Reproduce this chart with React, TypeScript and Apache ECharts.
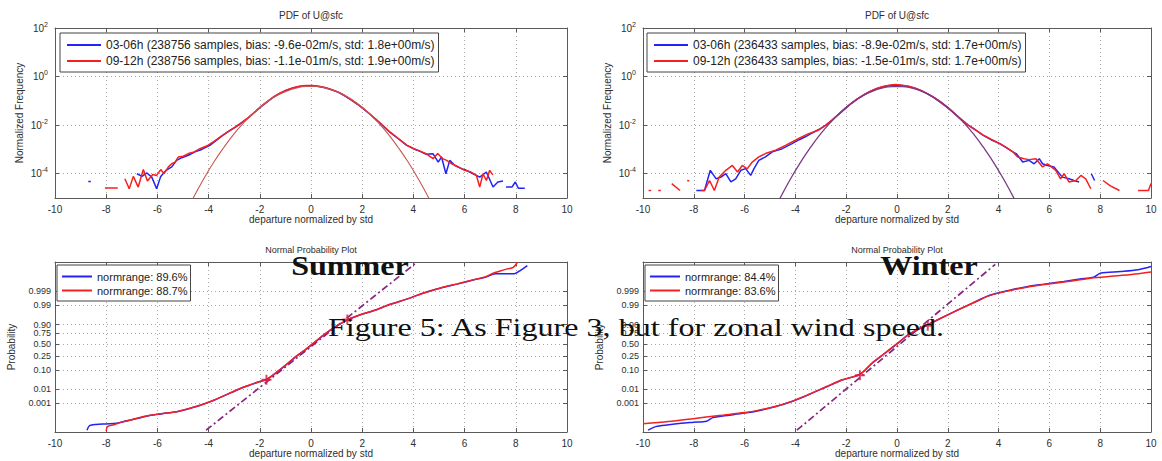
import React, { useEffect, useRef } from "react";
import * as echarts from "echarts";

// ---------- data ----------
// x ticks (departure normalized by std)
const xTickMin = -10;
const xTickMax = 10;
const xTickStep = 2;

// PDF plots: y values are log10(normalized frequency)
const pdfTickValues = [-4, -2, 0, 2];
const pdfLogMin = -5;
const pdfLogMax = 2;

// normal probability plots: y values are normal quantiles
const probTickValues = [-3.09, -2.33, -1.28, -0.5, 0.2, 0.8, 1.27, 2.35, 3.15];
const probTickLabels = ["0.001", "0.01", "0.10", "0.25", "0.50", "0.75", "0.90", "0.99", "0.999"];
const probMin = -4.7;
const probMax = 4.75;

const plotTitlesTop = ["PDF of U@sfc", "PDF of U@sfc"];
const plotTitlesBottom = ["Normal Probability Plot", "Normal Probability Plot"];
const seasonLabels = ["Summer", "Winter"];
const captionText = "Figure 5: As Figure 3, but for zonal wind speed.";

const legendSummer = [
  "03-06h (238756 samples, bias: -9.6e-02m/s, std: 1.8e+00m/s)",
  "09-12h (238756 samples, bias: -1.1e-01m/s, std: 1.9e+00m/s)",
];
const legendWinter = [
  "03-06h (236433 samples, bias: -8.9e-02m/s, std: 1.7e+00m/s)",
  "09-12h (236433 samples, bias: -1.5e-01m/s, std: 1.7e+00m/s)",
];
const legendSummerProb = ["normrange: 89.6%", "normrange: 88.7%"];
const legendWinterProb = ["normrange: 84.4%", "normrange: 83.6%"];

// fitted normal pdf (log10)
const normalFitPdf = [
  [-4.65, -5.1], [-4.2, -4.23], [-3.8, -3.53], [-3.4, -2.91], [-3.0, -2.35], [-2.6, -1.87],
  [-2.2, -1.45], [-1.8, -1.1], [-1.4, -0.82], [-1.0, -0.62], [-0.6, -0.48], [-0.2, -0.41],
  [0.2, -0.41], [0.6, -0.48], [1.0, -0.62], [1.4, -0.82], [1.8, -1.1], [2.2, -1.45],
  [2.6, -1.87], [3.0, -2.35], [3.4, -2.91], [3.8, -3.53], [4.2, -4.23], [4.65, -5.1],
];

const summerPdf0306 = [
  [-8.7, -4.32], [-8.6, -4.32], [-8.5, null],
  [-6.8, -4.0], [-6.6, -4.11], [-6.41, -3.97], [-6.22, -4.14], [-6.03, -4.62], [-5.87, -4.11],
  [-5.66, -3.86], [-5.44, -3.72], [-5.25, -3.45], [-5.05, -3.34], [-4.79, -3.24], [-4.53, -3.1],
  [-4.27, -3.0], [-3.95, -2.83], [-3.7, -2.63], [-3.45, -2.42], [-3.2, -2.24], [-2.95, -2.08],
  [-2.7, -1.9], [-2.45, -1.7], [-2.2, -1.47], [-1.95, -1.24], [-1.7, -1.03], [-1.45, -0.84],
  [-1.2, -0.68], [-0.95, -0.56], [-0.7, -0.47], [-0.45, -0.41], [-0.2, -0.38], [0.05, -0.38],
  [0.3, -0.41], [0.55, -0.46], [0.8, -0.54], [1.05, -0.64], [1.3, -0.78], [1.55, -0.95],
  [1.8, -1.13], [2.05, -1.33], [2.3, -1.55], [2.55, -1.78], [2.8, -2.02], [3.09, -2.3],
  [3.4, -2.55], [3.74, -2.83], [4.0, -2.97], [4.26, -3.08], [4.5, -3.2], [4.77, -3.18],
  [4.97, -3.52], [5.1, -3.31], [5.27, -4.0], [5.42, -3.45], [5.62, -3.66], [5.88, -3.79],
  [6.07, -3.86], [6.33, -4.0], [6.59, -4.14], [6.85, -3.93], [7.11, -4.55], [7.3, -4.34],
  [7.5, -4.3], [7.56, null], [7.62, -4.55], [7.85, -4.55], [7.98, -4.34], [8.1, -4.6], [8.35, -4.6],
];

const summerPdf0912 = [
  [-8.05, -4.59], [-7.55, -4.59], [-7.4, null],
  [-7.27, -4.21], [-7.1, -4.62], [-6.94, -4.11], [-6.75, -4.55], [-6.55, -3.83], [-6.39, -4.3],
  [-6.18, -4.03], [-6.03, -4.07], [-5.87, -3.83], [-5.74, -4.0], [-5.57, -3.72], [-5.44, -3.59],
  [-5.31, -3.52], [-5.18, -3.31], [-4.99, -3.28], [-4.79, -3.17], [-4.6, -3.12], [-4.34, -2.97],
  [-4.08, -2.86], [-3.8, -2.68], [-3.5, -2.45], [-3.2, -2.25], [-2.95, -2.07], [-2.7, -1.89],
  [-2.45, -1.69], [-2.2, -1.46], [-1.95, -1.23], [-1.7, -1.02], [-1.45, -0.83], [-1.2, -0.67],
  [-0.95, -0.55], [-0.7, -0.46], [-0.45, -0.4], [-0.2, -0.37], [0.05, -0.37], [0.3, -0.4],
  [0.55, -0.45], [0.8, -0.53], [1.05, -0.63], [1.3, -0.77], [1.55, -0.94], [1.8, -1.12],
  [2.05, -1.32], [2.3, -1.54], [2.55, -1.77], [2.8, -2.01], [3.09, -2.29], [3.4, -2.54],
  [3.74, -2.82], [4.0, -2.96], [4.26, -3.07], [4.5, -3.18], [4.77, -3.38], [4.95, -3.17],
  [5.14, -3.38], [5.3, -3.45], [5.5, -3.59], [5.75, -3.72], [6.0, -3.86], [6.25, -3.93],
  [6.46, -4.07], [6.59, -4.55], [6.72, -4.0], [6.85, -4.28], [6.98, -3.86], [7.1, -4.05],
];

const winterPdf0306 = [
  [-7.9, -4.69], [-7.58, -4.69], [-7.35, -3.86], [-7.12, -4.21], [-6.93, -4.14], [-6.74, -4.0],
  [-6.54, -4.34], [-6.35, -4.21], [-6.15, -3.86], [-5.96, -3.79], [-5.76, -4.07], [-5.63, -3.79],
  [-5.44, -3.45], [-5.18, -3.31], [-4.91, -3.1], [-4.52, -2.97], [-4.13, -2.76], [-3.85, -2.6],
  [-3.61, -2.48], [-3.35, -2.33], [-3.08, -2.18], [-2.8, -2.0], [-2.55, -1.79], [-2.3, -1.56],
  [-2.05, -1.33], [-1.8, -1.11], [-1.55, -0.92], [-1.3, -0.75], [-1.05, -0.61], [-0.8, -0.5],
  [-0.55, -0.42], [-0.3, -0.37], [-0.05, -0.35], [0.2, -0.37], [0.45, -0.41], [0.7, -0.48],
  [0.95, -0.58], [1.2, -0.71], [1.45, -0.87], [1.7, -1.05], [1.95, -1.25], [2.2, -1.47],
  [2.45, -1.7], [2.8, -2.0], [3.1, -2.2], [3.38, -2.41], [3.7, -2.6], [4.04, -2.76],
  [4.3, -2.93], [4.56, -3.1], [4.69, -3.17], [4.95, -3.52], [5.2, -3.45], [5.4, -3.59],
  [5.6, -3.38], [5.73, -3.59], [5.92, -3.66], [6.18, -3.72], [6.51, -4.14], [6.77, -4.21],
  [6.97, -4.28], [7.17, -4.34], [7.3, null], [7.65, -4.0], [7.78, -4.28],
];

const winterPdf0912 = [
  [-9.78, -4.69], [-9.68, -4.69], [-9.6, null], [-9.4, -4.69], [-9.3, -4.69], [-9.1, null],
  [-8.87, -4.41], [-8.54, -4.69], [-8.4, null], [-8.26, -4.28], [-8.18, -4.3], [-8.0, null],
  [-7.72, -4.69], [-7.58, -4.69], [-7.38, -4.28], [-7.19, -4.69], [-7.0, -4.14], [-6.74, -3.86],
  [-6.48, -3.66], [-6.28, -3.93], [-6.09, -3.66], [-5.9, -3.8], [-5.7, -3.52], [-5.44, -3.31],
  [-5.18, -3.17], [-4.78, -3.03], [-4.39, -2.83], [-3.87, -2.55], [-3.5, -2.36], [-3.08, -2.2],
  [-2.8, -2.0], [-2.55, -1.78], [-2.3, -1.55], [-2.05, -1.32], [-1.8, -1.1], [-1.55, -0.91],
  [-1.3, -0.74], [-1.05, -0.6], [-0.8, -0.49], [-0.55, -0.41], [-0.3, -0.36], [-0.05, -0.33],
  [0.2, -0.36], [0.45, -0.4], [0.7, -0.47], [0.95, -0.57], [1.2, -0.7], [1.45, -0.86],
  [1.7, -1.04], [1.95, -1.24], [2.2, -1.46], [2.45, -1.69], [2.8, -2.0], [3.1, -2.21],
  [3.38, -2.4], [3.7, -2.58], [4.04, -2.75], [4.3, -2.92], [4.56, -3.1], [4.75, -3.31],
  [5.0, -3.38], [5.2, -3.42], [5.47, -3.38], [5.73, -3.72], [5.92, -3.59], [6.25, -3.86],
  [6.44, -4.21], [6.58, -4.0], [6.77, -4.34], [7.04, -4.28], [7.24, -4.07], [7.43, -4.21],
  [7.63, -4.62], [7.8, null], [8.11, -4.28], [8.4, -4.5], [8.76, -4.69], [9.0, null],
  [9.49, -4.69], [9.9, -4.69], [10, -4.4],
];

// normal probability plots (normal quantile of cumulative probability)
const summerProb0306 = [
  [-8.75, -4.6], [-8.65, -4.35], [-8.4, -4.28], [-8.0, -4.25], [-7.6, -4.22], [-7.2, -4.08],
  [-6.8, -3.95], [-6.3, -3.78], [-5.8, -3.68], [-5.25, -3.57], [-4.8, -3.42], [-4.3, -3.2],
  [-3.9, -3.0], [-3.5, -2.75], [-3.1, -2.5], [-2.76, -2.28], [-2.4, -2.1], [-2.03, -1.91],
  [-1.74, -1.78], [-1.4, -1.45], [-1.0, -1.0], [-0.6, -0.52], [-0.22, -0.13], [0.2, 0.35],
  [0.5, 0.7], [0.9, 1.1], [1.42, 1.53], [1.9, 1.8], [2.46, 2.05], [3.1, 2.4], [3.77, 2.7],
  [4.4, 3.03], [5.07, 3.3], [5.7, 3.52], [6.37, 3.76], [6.8, 3.9], [7.2, 4.1], [7.6, 4.1],
  [7.94, 4.1], [8.2, 4.3], [8.45, 4.55],
];
const summerProb0912 = [
  [-8.0, -4.65], [-7.95, -4.4], [-7.7, -4.3], [-7.4, -4.15], [-7.19, -4.09], [-6.8, -3.93],
  [-6.28, -3.77], [-5.8, -3.67], [-5.24, -3.58], [-4.8, -3.4], [-4.32, -3.21], [-3.9, -2.99],
  [-3.49, -2.75], [-3.1, -2.49], [-2.76, -2.28], [-2.4, -2.09], [-2.03, -1.91], [-1.74, -1.78],
  [-1.4, -1.44], [-1.0, -0.99], [-0.6, -0.51], [-0.22, -0.12], [0.2, 0.36], [0.5, 0.7],
  [0.9, 1.1], [1.42, 1.53], [1.9, 1.8], [2.46, 2.05], [3.1, 2.4], [3.77, 2.7], [4.4, 3.03],
  [5.07, 3.31], [5.7, 3.53], [6.37, 3.77], [6.8, 3.92], [7.16, 4.15], [7.5, 4.3], [7.68, 4.37],
  [7.9, 4.45], [8.07, 4.75],
];
const winterProb0306 = [
  [-9.8, -4.6], [-9.5, -4.4], [-9.0, -4.3], [-8.5, -4.22], [-8.0, -4.16], [-7.5, -4.1],
  [-7.25, -3.9], [-6.8, -3.8], [-6.0, -3.65], [-5.4, -3.5], [-4.8, -3.3], [-4.23, -3.05],
  [-3.6, -2.7], [-3.07, -2.37], [-2.6, -2.08], [-2.19, -1.82], [-1.46, -1.5], [-1.0, -0.9],
  [-0.5, -0.35], [0.0, 0.2], [0.5, 0.75], [1.2, 1.25], [2.2, 1.95], [2.95, 2.45], [3.65, 2.9],
  [4.4, 3.17], [5.11, 3.38], [5.8, 3.52], [6.57, 3.67], [7.2, 3.8], [7.74, 3.91], [8.03, 4.14],
  [8.8, 4.22], [9.49, 4.32], [10, 4.5],
];
const winterProb0912 = [
  [-10, -4.24], [-9.0, -4.12], [-8.03, -3.96], [-7.0, -3.78], [-6.0, -3.62], [-5.4, -3.47],
  [-4.8, -3.28], [-4.23, -3.04], [-3.6, -2.69], [-3.07, -2.36], [-2.6, -2.07], [-2.19, -1.81],
  [-1.46, -1.49], [-1.0, -0.89], [-0.5, -0.34], [0.0, 0.21], [0.5, 0.76], [1.2, 1.26],
  [2.2, 1.95], [2.95, 2.44], [3.65, 2.88], [4.4, 3.15], [5.11, 3.35], [5.8, 3.5], [6.57, 3.64],
  [7.2, 3.76], [7.74, 3.88], [8.03, 3.9], [8.8, 4.0], [9.49, 4.1], [10, 4.2],
];

const summerRefLine = [[-4.1, -4.6], [4.15, 4.75]];
const summerQuartiles = [[-1.74, -1.8], [1.42, 1.55]];
const winterRefLine = [[-3.94, -4.6], [3.87, 4.62]];
const winterQuartiles = [[-1.46, -1.55], [1.21, 1.2]];

// ---------- styling ----------
const SANS = "'Liberation Sans', Arial, Helvetica, sans-serif";
const SERIF = "'Liberation Serif', 'DejaVu Serif', serif";
const BLUE = "#2323f5";
const RED = "#f52020";
const AXIS = "#5a5a5a";
const TEXT = "#2e2e2e";
const PLUS = "path://M4,0H6V4H10V6H6V10H4V6H0V4H4Z";

const grids = [
  { left: 55, top: 28, width: 512, height: 170 },
  { left: 643, top: 28, width: 508, height: 170 },
  { left: 55, top: 262, width: 512, height: 170 },
  { left: 643, top: 262, width: 508, height: 170 },
];

function nearestLabel(v: number) {
  let best = 0;
  for (let i = 1; i < probTickValues.length; i++) {
    if (Math.abs(probTickValues[i] - v) < Math.abs(probTickValues[best] - v)) best = i;
  }
  return probTickLabels[best];
}

function buildOption() {
  const xAxes: any[] = [];
  const yAxes: any[] = [];
  const tickStyle = { color: AXIS, width: 1 };
  for (let i = 0; i < 4; i++) {
    xAxes.push({
      gridIndex: i, type: "value", min: xTickMin, max: xTickMax, interval: xTickStep, position: "bottom",
      name: "departure normalized by std", nameLocation: "middle", nameGap: 16,
      nameTextStyle: { fontFamily: SANS, fontSize: 10, color: TEXT },
      axisLine: { show: true, onZero: false, lineStyle: tickStyle },
      axisTick: { show: true, inside: true, length: 4, lineStyle: tickStyle },
      axisLabel: { fontFamily: SANS, fontSize: 10, color: TEXT, margin: 6 },
      splitLine: { show: true, lineStyle: { color: "#a8a8a8", type: [1, 3], width: 1 } },
    });
    xAxes.push({
      gridIndex: i, type: "value", min: xTickMin, max: xTickMax, interval: xTickStep, position: "top",
      axisLine: { show: true, onZero: false, lineStyle: tickStyle },
      axisTick: { show: true, inside: true, length: 4, lineStyle: tickStyle },
      axisLabel: { show: false }, splitLine: { show: false },
    });
    const isPdf = i < 2;
    const tv = isPdf ? pdfTickValues : probTickValues;
    yAxes.push({
      gridIndex: i, type: "value", position: "left",
      min: isPdf ? pdfLogMin : probMin, max: isPdf ? pdfLogMax : probMax,
      name: isPdf ? "Normalized Frequency" : "Probability", nameLocation: "middle",
      nameGap: isPdf ? 31 : 39,
      nameTextStyle: { fontFamily: SANS, fontSize: 10, color: TEXT },
      axisLine: { show: true, onZero: false, lineStyle: tickStyle },
      axisTick: { show: true, inside: true, length: 4, lineStyle: tickStyle, customValues: tv },
      axisLabel: isPdf
        ? {
            customValues: tv, margin: 7,
            formatter: (v: number) => "{b|10}{s|" + v + "}",
            rich: {
              b: { fontFamily: SANS, fontSize: 10, color: TEXT },
              s: { fontFamily: SANS, fontSize: 7, color: TEXT, padding: [0, 0, 8, 0] },
            },
          }
        : {
            customValues: tv, margin: 4, fontFamily: SANS, fontSize: 9, color: TEXT,
            formatter: (v: number) => nearestLabel(v),
          },
      splitLine: { show: true, lineStyle: { color: "#a8a8a8", type: [1, 3], width: 1 } },
    });
    yAxes.push({
      gridIndex: i, type: "value", position: "right",
      min: isPdf ? pdfLogMin : probMin, max: isPdf ? pdfLogMax : probMax,
      axisLine: { show: true, onZero: false, lineStyle: tickStyle },
      axisTick: { show: true, inside: true, length: 4, lineStyle: tickStyle, customValues: tv },
      axisLabel: { show: false }, splitLine: { show: false },
    });
  }

  const line = (name: string, gi: number, data: any[], color: string, width = 1.5, extra: any = {}) => ({
    name, type: "line", xAxisIndex: gi * 2, yAxisIndex: gi * 2, data, symbol: "none",
    lineStyle: { color, width }, itemStyle: { color }, connectNulls: false, clip: true,
    silent: true, ...extra,
  });
  const refLine = (gi: number, data: any[]) => ({
    type: "line", xAxisIndex: gi * 2, yAxisIndex: gi * 2, data, symbol: "none", silent: true,
    lineStyle: { color: "#86287e", width: 1.7, type: [7, 3, 2, 3] }, z: 3,
  });
  const quart = (gi: number, data: any[]) => ({
    type: "scatter", xAxisIndex: gi * 2, yAxisIndex: gi * 2, data, symbol: PLUS, symbolSize: 10,
    itemStyle: { color: "#d81b45" }, silent: true, z: 4,
  });

  const series = [
    line(legendSummer[0], 0, summerPdf0306, BLUE),
    line(legendSummer[1], 0, summerPdf0912, RED),
    line("fitSummer", 0, normalFitPdf, "#c8564f", 1.1, { smooth: true, z: 3 }),
    line(legendWinter[0], 1, winterPdf0306, BLUE),
    line(legendWinter[1], 1, winterPdf0912, RED),
    line("fitWinter", 1, normalFitPdf, "#7b3a86", 1.3, { smooth: true, z: 3 }),
    refLine(2, summerRefLine),
    line(legendSummerProb[0], 2, summerProb0306, BLUE, 1.5, { smooth: 0.3 }),
    line(legendSummerProb[1], 2, summerProb0912, RED, 1.5, { smooth: 0.3 }),
    quart(2, summerQuartiles),
    refLine(3, winterRefLine),
    line(legendWinterProb[0], 3, winterProb0306, BLUE, 1.5, { smooth: 0.3 }),
    line(legendWinterProb[1], 3, winterProb0912, RED, 1.5, { smooth: 0.3 }),
    quart(3, winterQuartiles),
  ];

  const legendBase = {
    orient: "vertical", selectedMode: false, backgroundColor: "#fff",
    borderColor: "#444", borderWidth: 1, borderRadius: 0,
    icon: "rect", itemWidth: 34, itemHeight: 2, itemGap: 2,
    textStyle: { fontFamily: SANS, fontSize: 12, color: "#222", lineHeight: 14 },
    z: 6,
  };
  const legend = [
    { ...legendBase, data: legendSummer, left: 60, top: 33, padding: [5, 4, 4, 7] },
    { ...legendBase, data: legendWinter, left: 647, top: 33, padding: [5, 4, 4, 7] },
    {
      ...legendBase, data: legendSummerProb, left: 57, top: 265, padding: [5, 3, 4, 5], itemWidth: 30,
      itemGap: 1, textStyle: { ...legendBase.textStyle, fontSize: 11, lineHeight: 13 },
    },
    {
      ...legendBase, data: legendWinterProb, left: 645, top: 265, padding: [5, 3, 4, 5], itemWidth: 30,
      itemGap: 1, textStyle: { ...legendBase.textStyle, fontSize: 11, lineHeight: 13 },
    },
  ];

  const titleText = (text: string, x: number, y: number, size: number) => ({
    type: "text", x, y, z: 10,
    style: { text, fontFamily: SANS, fontSize: size, fill: TEXT, align: "center", verticalAlign: "middle" },
  });

  const graphic = [
    titleText(plotTitlesTop[0], 311, 15, 10),
    titleText(plotTitlesTop[1], 897, 15, 10),
    titleText(plotTitlesBottom[0], 311, 250, 9),
    titleText(plotTitlesBottom[1], 897, 250, 9),
    {
      type: "text", x: 350, y: 266, scaleX: 1.19, z: 20,
      style: { text: seasonLabels[0], fontFamily: SERIF, fontWeight: "bold", fontSize: 27, fill: "#111", align: "center", verticalAlign: "middle" },
    },
    {
      type: "text", x: 929, y: 266, scaleX: 1.19, z: 20,
      style: { text: seasonLabels[1], fontFamily: SERIF, fontWeight: "bold", fontSize: 27, fill: "#111", align: "center", verticalAlign: "middle" },
    },
    {
      type: "text", x: 636, y: 327, scaleX: 1.235, z: 20,
      style: { text: captionText, fontFamily: SERIF, fontSize: 26, fill: "#111", align: "center", verticalAlign: "middle" },
    },
  ];

  return {
    animation: false,
    backgroundColor: "#ffffff",
    grid: grids.map((g) => ({ ...g, containLabel: false })),
    xAxis: xAxes,
    yAxis: yAxes,
    legend,
    series,
    graphic,
  };
}

export default function App() {
  const ref = useRef<HTMLDivElement>(null);
  useEffect(() => {
    if (!ref.current) return;
    const chart = echarts.init(ref.current, undefined, { renderer: "svg" });
    chart.setOption(buildOption() as any);
    return () => chart.dispose();
  }, []);
  return (
    <div
      ref={ref}
      style={{ position: "fixed", left: 0, top: 0, width: 1162, height: 461, background: "#fff" }}
    />
  );
}
